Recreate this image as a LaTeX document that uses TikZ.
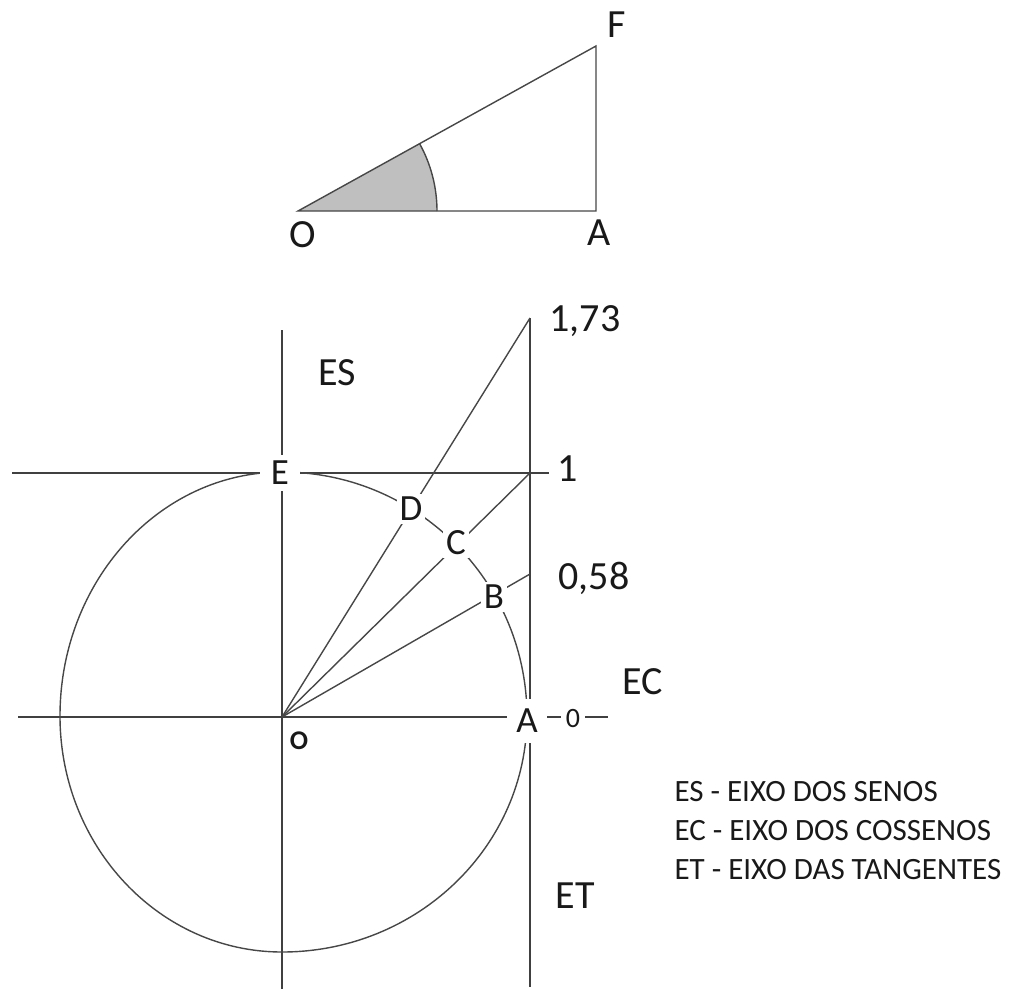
\documentclass[tikz,border=0pt]{standalone}
\usepackage{fontspec}
\setmainfont{Carlito}
\usetikzlibrary{positioning}

\begin{document}
\begin{tikzpicture}[
        x=1pt, y=-1pt,
        ln/.style={line width=1.7pt, black!75},
        thin ln/.style={line width=1.4pt, black!72},
        lbl/.style={
            fill=white, inner sep=3pt, text=black!90,
            font=\fontsize{37}{39}\selectfont
        },
        num/.style={text=black!90, font=\fontsize{40}{42}\selectfont},
        leg/.style={
            text=black!90, align=left,
            font=\fontsize{31}{39}\selectfont
        }
    ]
    \useasboundingbox (0,0) rectangle (1020,989);

    % triangulo OAF
    \coordinate (tO) at (298,211);
    \coordinate (tA) at (596,211);
    \coordinate (tF) at (596,46);
    \fill[black!25] (tO) -- ++(139pt,0pt) arc[start angle=0, end angle=29, radius=139pt] -- cycle;
    \draw[thin ln] (tO) ++(139pt,0pt) arc[start angle=0, end angle=29, radius=139pt];
    \draw[thin ln] (tO) -- (tA) -- (tF) -- cycle;
    \node[num] (lbO) at (303,235) {O};
    \node[num] (lbA) at (599,233) {A};
    \node[num] (lbF) at (617,25) {F};

    % ciclo trigonometrico
    \coordinate (O) at (282,717);
    \coordinate (A) at (527,717);
    \coordinate (E) at (280,473);
    \coordinate (T3) at (530,318);
    \coordinate (T1) at (530,473);
    \coordinate (T0) at (530,574);
    \coordinate (esTop) at (282,330);
    \coordinate (esBot) at (282,989);
    \coordinate (ecL) at (18,717);
    \coordinate (ecR) at (608,717);
    \coordinate (hL) at (12,473);
    \coordinate (hR) at (549,473);
    \coordinate (etBot) at (530,987);

    \draw[ln] (esTop) -- (esBot);
    \draw[ln] (ecL) -- (ecR);
    \draw[ln] (hL) -- (hR);
    \draw[ln] (T3) -- (etBot);
    \draw[thin ln] (O) -- (T3);
    \draw[thin ln] (O) -- (T1);
    \draw[thin ln] (O) -- (T0);
    \draw[thin ln] (A)
        arc[start angle=0, end angle=90, radius=245pt]
        arc[start angle=90, end angle=180, x radius=222pt, y radius=244pt]
        arc[start angle=180, end angle=270, x radius=222pt, y radius=236pt]
        arc[start angle=270, end angle=360, x radius=245pt, y radius=236pt];

    \node[lbl, inner xsep=11pt, inner ysep=6pt] (lbE) at (E) {E};
    \node[lbl] (lbD) at (411,509) {D};
    \node[lbl] (lbC) at (456,543) {C};
    \node[lbl] (lbB) at (494,597) {B};
    \node[lbl, inner xsep=9pt, inner ysep=10pt] (lbA2) at (527,721) {A};
    \node[lbl, inner sep=5pt, font=\fontsize{28}{30}\selectfont] (lb0) at (573,718) {0};
    \node[text=black!90, font=\bfseries\fontsize{27}{28}\selectfont] (lbo) at (299,741) {O};

    \node[num] (v173) at (585,321) {1,73};
    \node[num] (v1) at (568,469) {1};
    \node[num] (v058) at (594,578) {0,58};
    \node[num] (es) at (337,373) {ES};
    \node[num] (ec) at (643,682) {EC};
    \node[num] (et) at (575,896) {ET};

    \node[leg, anchor=west] (legend) at (671,831)
        {ES - EIXO DOS SENOS\\EC - EIXO DOS COSSENOS\\ET - EIXO DAS TANGENTES};
\end{tikzpicture}
\end{document}
